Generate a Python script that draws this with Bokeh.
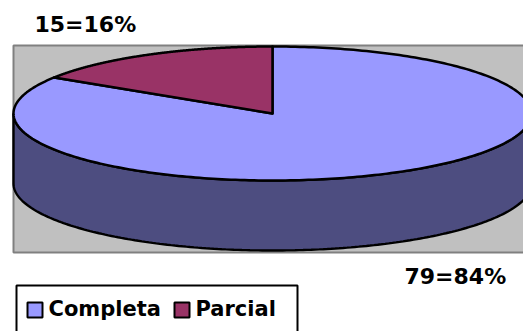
import numpy as np
from bokeh.plotting import figure
from bokeh.models import Range1d
from bokeh.core.properties import value
from bokeh.embed import file_html
from bokeh.resources import INLINE

# Survey answers
categories = ["Completa", "Parcial"]
counts = [79, 15]
top_colors = ["#9999FF", "#993366"]
side_colors = ["#4D4D80", "#4D1A33"]

W, H = 523, 331
FONT = "DejaVu Sans"

p = figure(width=W, height=H, output_backend="svg", toolbar_location=None,
           x_range=Range1d(0, W), y_range=Range1d(H, 0),
           min_border=0, outline_line_color=None)
p.axis.visible = False
p.grid.visible = False
p.background_fill_color = "white"
p.border_fill_color = "white"

# plot area background
p.quad(left=[13], right=[560], top=[45], bottom=[252],
       fill_color="#C0C0C0", line_color="#808080", line_width=2)

# 3D pie geometry (screen coordinates, y down)
cx, cy, rx, ry, depth = 272, 113, 259, 67, 70
total = sum(counts)
fracs = [c / total for c in counts]


def ell(phi, dy=0.0):
    # phi measured clockwise from 12 o'clock
    return cx + rx * np.sin(phi), cy + dy - ry * np.cos(phi)


# slice angles, first slice starts at 12 o'clock going clockwise
starts = np.cumsum([0] + fracs[:-1]) * 2 * np.pi
ends = np.cumsum(fracs) * 2 * np.pi

# visible front wall: portion of each slice between 90 and 270 degrees
for s, e, col in zip(starts, ends, side_colors):
    a0, a1 = max(s, np.pi / 2), min(e, 3 * np.pi / 2)
    if a1 <= a0:
        continue
    t = np.linspace(a0, a1, 200)
    xt, yt = ell(t)
    xb, yb = ell(t[::-1], depth)
    p.patch(np.concatenate([xt, xb]), np.concatenate([yt, yb]),
            fill_color=col, line_color="black", line_width=2.4)

# top faces
for s, e, col in zip(starts, ends, top_colors):
    t = np.linspace(s, e, 300)
    xs, ys = ell(t)
    p.patch(np.concatenate([[cx], xs, [cx]]), np.concatenate([[cy], ys, [cy]]),
            fill_color=col, line_color="black", line_width=2.5,
            line_join="round")

# data labels
labels = [f"{c}={round(100 * f)}%" for c, f in zip(counts, fracs)]
p.text(x=[404], y=[276], text=[labels[0]], text_font=value(FONT),
       text_font_style="bold", text_font_size="22px", text_color="black",
       text_baseline="alphabetic")
p.text(x=[34], y=[24], text=[labels[1]], text_font=value(FONT),
       text_font_style="bold", text_font_size="22px", text_color="black",
       text_baseline="alphabetic")

# legend
p.quad(left=[16], right=[297], top=[285], bottom=[345],
       fill_color="white", line_color="black", line_width=2)
sq_x = [27, 174]
txt_x = [48, 195]
p.quad(left=sq_x, right=[x + 15 for x in sq_x], top=[302] * 2, bottom=[317] * 2,
       fill_color=top_colors, line_color="black", line_width=2)
p.text(x=txt_x, y=[308] * 2, text=categories, text_font=value(FONT),
       text_font_style="bold", text_font_size="21px", text_color="black",
       text_baseline="alphabetic")

open("out.html", "w").write(file_html(p, INLINE))
